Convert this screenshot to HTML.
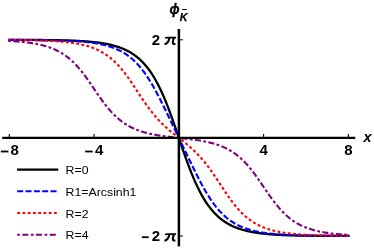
<!DOCTYPE html>
<html><head><meta charset="utf-8"><style>
html,body{margin:0;padding:0;background:#fff;}
body{width:374px;height:249px;overflow:hidden;position:relative;font-family:"Liberation Sans",sans-serif;}
svg{position:absolute;left:0;top:0;will-change:transform;}
text{font-family:"Liberation Sans",sans-serif;}
.b{font-weight:bold;font-size:15px;}
.bi{font-weight:bold;font-style:italic;font-size:14.5px;}
.l{font-size:11.6px;}
</style></head><body>
<svg width="374" height="249" viewBox="0 0 374 249">
<!-- curves -->
<path d="M9.33,39.86 L10.18,39.86 L11.03,39.86 L11.87,39.87 L12.72,39.87 L13.57,39.87 L14.42,39.87 L15.26,39.87 L16.11,39.88 L16.96,39.88 L17.81,39.88 L18.65,39.88 L19.50,39.89 L20.35,39.89 L21.20,39.89 L22.04,39.90 L22.89,39.90 L23.74,39.90 L24.59,39.91 L25.43,39.91 L26.28,39.91 L27.13,39.92 L27.98,39.92 L28.82,39.92 L29.67,39.93 L30.52,39.93 L31.37,39.94 L32.22,39.94 L33.06,39.95 L33.91,39.95 L34.76,39.96 L35.61,39.96 L36.45,39.97 L37.30,39.98 L38.15,39.98 L39.00,39.99 L39.84,40.00 L40.69,40.00 L41.54,40.01 L42.39,40.02 L43.23,40.03 L44.08,40.04 L44.93,40.04 L45.78,40.05 L46.62,40.06 L47.47,40.07 L48.32,40.08 L49.17,40.09 L50.01,40.11 L50.86,40.12 L51.71,40.13 L52.56,40.14 L53.41,40.15 L54.25,40.17 L55.10,40.18 L55.95,40.20 L56.80,40.21 L57.64,40.23 L58.49,40.25 L59.34,40.26 L60.19,40.28 L61.03,40.30 L61.88,40.32 L62.73,40.34 L63.58,40.36 L64.42,40.38 L65.27,40.41 L66.12,40.43 L66.97,40.46 L67.81,40.48 L68.66,40.51 L69.51,40.54 L70.36,40.57 L71.20,40.60 L72.05,40.63 L72.90,40.66 L73.75,40.70 L74.60,40.73 L75.44,40.77 L76.29,40.81 L77.14,40.85 L77.99,40.89 L78.83,40.93 L79.68,40.98 L80.53,41.03 L81.38,41.07 L82.22,41.13 L83.07,41.18 L83.92,41.23 L84.77,41.29 L85.61,41.35 L86.46,41.42 L87.31,41.48 L88.16,41.55 L89.00,41.62 L89.85,41.69 L90.70,41.77 L91.55,41.85 L92.39,41.93 L93.24,42.02 L94.09,42.11 L94.94,42.20 L95.79,42.30 L96.63,42.40 L97.48,42.50 L98.33,42.61 L99.18,42.73 L100.02,42.85 L100.87,42.97 L101.72,43.10 L102.57,43.23 L103.41,43.37 L104.26,43.51 L105.11,43.67 L105.96,43.82 L106.80,43.99 L107.65,44.16 L108.50,44.33 L109.35,44.52 L110.19,44.71 L111.04,44.91 L111.89,45.11 L112.74,45.33 L113.58,45.55 L114.43,45.79 L115.28,46.03 L116.13,46.28 L116.98,46.55 L117.82,46.82 L118.67,47.11 L119.52,47.40 L120.37,47.71 L121.21,48.03 L122.06,48.37 L122.91,48.72 L123.76,49.08 L124.60,49.45 L125.45,49.85 L126.30,50.25 L127.15,50.68 L127.99,51.12 L128.84,51.58 L129.69,52.05 L130.54,52.55 L131.38,53.06 L132.23,53.60 L133.08,54.16 L133.93,54.74 L134.77,55.34 L135.62,55.97 L136.47,56.62 L137.32,57.29 L138.17,58.00 L139.01,58.73 L139.86,59.49 L140.71,60.28 L141.56,61.10 L142.40,61.95 L143.25,62.83 L144.10,63.75 L144.95,64.70 L145.79,65.68 L146.64,66.71 L147.49,67.77 L148.34,68.87 L149.18,70.01 L150.03,71.19 L150.88,72.42 L151.73,73.69 L152.57,75.00 L153.42,76.35 L154.27,77.76 L155.12,79.21 L155.96,80.70 L156.81,82.25 L157.66,83.84 L158.51,85.48 L159.36,87.18 L160.20,88.92 L161.05,90.71 L161.90,92.56 L162.75,94.45 L163.59,96.39 L164.44,98.38 L165.29,100.42 L166.14,102.50 L166.98,104.63 L167.83,106.80 L168.68,109.02 L169.53,111.27 L170.37,113.56 L171.22,115.89 L172.07,118.25 L172.92,120.64 L173.76,123.06 L174.61,125.49 L175.46,127.95 L176.31,130.43 L177.15,132.91 L178.00,135.40 L178.85,137.90 L179.70,140.40 L180.55,142.89 L181.39,145.37 L182.24,147.85 L183.09,150.31 L183.94,152.74 L184.78,155.16 L185.63,157.55 L186.48,159.91 L187.33,162.24 L188.17,164.53 L189.02,166.78 L189.87,169.00 L190.72,171.17 L191.56,173.30 L192.41,175.38 L193.26,177.42 L194.11,179.41 L194.95,181.35 L195.80,183.24 L196.65,185.09 L197.50,186.88 L198.34,188.62 L199.19,190.32 L200.04,191.96 L200.89,193.55 L201.74,195.10 L202.58,196.59 L203.43,198.04 L204.28,199.45 L205.13,200.80 L205.97,202.11 L206.82,203.38 L207.67,204.61 L208.52,205.79 L209.36,206.93 L210.21,208.03 L211.06,209.09 L211.91,210.12 L212.75,211.10 L213.60,212.05 L214.45,212.97 L215.30,213.85 L216.14,214.70 L216.99,215.52 L217.84,216.31 L218.69,217.07 L219.53,217.80 L220.38,218.51 L221.23,219.18 L222.08,219.83 L222.93,220.46 L223.77,221.06 L224.62,221.64 L225.47,222.20 L226.32,222.74 L227.16,223.25 L228.01,223.75 L228.86,224.22 L229.71,224.68 L230.55,225.12 L231.40,225.55 L232.25,225.95 L233.10,226.35 L233.94,226.72 L234.79,227.08 L235.64,227.43 L236.49,227.77 L237.33,228.09 L238.18,228.40 L239.03,228.69 L239.88,228.98 L240.72,229.25 L241.57,229.52 L242.42,229.77 L243.27,230.01 L244.12,230.25 L244.96,230.47 L245.81,230.69 L246.66,230.89 L247.51,231.09 L248.35,231.28 L249.20,231.47 L250.05,231.64 L250.90,231.81 L251.74,231.98 L252.59,232.13 L253.44,232.29 L254.29,232.43 L255.13,232.57 L255.98,232.70 L256.83,232.83 L257.68,232.95 L258.52,233.07 L259.37,233.19 L260.22,233.30 L261.07,233.40 L261.91,233.50 L262.76,233.60 L263.61,233.69 L264.46,233.78 L265.31,233.87 L266.15,233.95 L267.00,234.03 L267.85,234.11 L268.70,234.18 L269.54,234.25 L270.39,234.32 L271.24,234.38 L272.09,234.45 L272.93,234.51 L273.78,234.57 L274.63,234.62 L275.48,234.67 L276.32,234.73 L277.17,234.77 L278.02,234.82 L278.87,234.87 L279.71,234.91 L280.56,234.95 L281.41,234.99 L282.26,235.03 L283.10,235.07 L283.95,235.10 L284.80,235.14 L285.65,235.17 L286.50,235.20 L287.34,235.23 L288.19,235.26 L289.04,235.29 L289.89,235.32 L290.73,235.34 L291.58,235.37 L292.43,235.39 L293.28,235.42 L294.12,235.44 L294.97,235.46 L295.82,235.48 L296.67,235.50 L297.51,235.52 L298.36,235.54 L299.21,235.55 L300.06,235.57 L300.90,235.59 L301.75,235.60 L302.60,235.62 L303.45,235.63 L304.29,235.65 L305.14,235.66 L305.99,235.67 L306.84,235.68 L307.69,235.69 L308.53,235.71 L309.38,235.72 L310.23,235.73 L311.08,235.74 L311.92,235.75 L312.77,235.76 L313.62,235.76 L314.47,235.77 L315.31,235.78 L316.16,235.79 L317.01,235.80 L317.86,235.80 L318.70,235.81 L319.55,235.82 L320.40,235.82 L321.25,235.83 L322.09,235.84 L322.94,235.84 L323.79,235.85 L324.64,235.85 L325.48,235.86 L326.33,235.86 L327.18,235.87 L328.03,235.87 L328.88,235.88 L329.72,235.88 L330.57,235.88 L331.42,235.89 L332.27,235.89 L333.11,235.89 L333.96,235.90 L334.81,235.90 L335.66,235.90 L336.50,235.91 L337.35,235.91 L338.20,235.91 L339.05,235.92 L339.89,235.92 L340.74,235.92 L341.59,235.92 L342.44,235.93 L343.28,235.93 L344.13,235.93 L344.98,235.93 L345.83,235.93 L346.67,235.94 L347.52,235.94 L348.37,235.94" fill="none" stroke="#000000" stroke-width="2.3" stroke-linecap="square" />
<path d="M9.33,39.88 L10.18,39.88 L11.03,39.88 L11.87,39.89 L12.72,39.89 L13.57,39.89 L14.42,39.89 L15.26,39.90 L16.11,39.90 L16.96,39.90 L17.81,39.91 L18.65,39.91 L19.50,39.92 L20.35,39.92 L21.20,39.92 L22.04,39.93 L22.89,39.93 L23.74,39.94 L24.59,39.94 L25.43,39.95 L26.28,39.95 L27.13,39.96 L27.98,39.96 L28.82,39.97 L29.67,39.97 L30.52,39.98 L31.37,39.99 L32.22,39.99 L33.06,40.00 L33.91,40.01 L34.76,40.02 L35.61,40.02 L36.45,40.03 L37.30,40.04 L38.15,40.05 L39.00,40.06 L39.84,40.07 L40.69,40.08 L41.54,40.09 L42.39,40.10 L43.23,40.11 L44.08,40.12 L44.93,40.14 L45.78,40.15 L46.62,40.16 L47.47,40.18 L48.32,40.19 L49.17,40.21 L50.01,40.22 L50.86,40.24 L51.71,40.26 L52.56,40.28 L53.41,40.29 L54.25,40.31 L55.10,40.33 L55.95,40.35 L56.80,40.38 L57.64,40.40 L58.49,40.42 L59.34,40.45 L60.19,40.47 L61.03,40.50 L61.88,40.53 L62.73,40.56 L63.58,40.59 L64.42,40.62 L65.27,40.65 L66.12,40.68 L66.97,40.72 L67.81,40.76 L68.66,40.79 L69.51,40.83 L70.36,40.87 L71.20,40.92 L72.05,40.96 L72.90,41.01 L73.75,41.06 L74.60,41.11 L75.44,41.16 L76.29,41.22 L77.14,41.27 L77.99,41.33 L78.83,41.39 L79.68,41.46 L80.53,41.52 L81.38,41.59 L82.22,41.67 L83.07,41.74 L83.92,41.82 L84.77,41.90 L85.61,41.99 L86.46,42.08 L87.31,42.17 L88.16,42.26 L89.00,42.36 L89.85,42.47 L90.70,42.57 L91.55,42.69 L92.39,42.80 L93.24,42.93 L94.09,43.05 L94.94,43.18 L95.79,43.32 L96.63,43.46 L97.48,43.61 L98.33,43.77 L99.18,43.93 L100.02,44.10 L100.87,44.27 L101.72,44.45 L102.57,44.64 L103.41,44.84 L104.26,45.04 L105.11,45.25 L105.96,45.47 L106.80,45.70 L107.65,45.94 L108.50,46.19 L109.35,46.45 L110.19,46.72 L111.04,47.00 L111.89,47.29 L112.74,47.59 L113.58,47.91 L114.43,48.24 L115.28,48.58 L116.13,48.93 L116.98,49.30 L117.82,49.68 L118.67,50.08 L119.52,50.49 L120.37,50.92 L121.21,51.37 L122.06,51.83 L122.91,52.32 L123.76,52.82 L124.60,53.34 L125.45,53.88 L126.30,54.44 L127.15,55.02 L127.99,55.63 L128.84,56.25 L129.69,56.90 L130.54,57.58 L131.38,58.28 L132.23,59.00 L133.08,59.76 L133.93,60.53 L134.77,61.34 L135.62,62.17 L136.47,63.03 L137.32,63.93 L138.17,64.85 L139.01,65.80 L139.86,66.78 L140.71,67.80 L141.56,68.84 L142.40,69.92 L143.25,71.03 L144.10,72.17 L144.95,73.35 L145.79,74.56 L146.64,75.79 L147.49,77.07 L148.34,78.37 L149.18,79.70 L150.03,81.07 L150.88,82.47 L151.73,83.89 L152.57,85.34 L153.42,86.83 L154.27,88.33 L155.12,89.87 L155.96,91.42 L156.81,93.01 L157.66,94.61 L158.51,96.23 L159.36,97.87 L160.20,99.53 L161.05,101.20 L161.90,102.89 L162.75,104.59 L163.59,106.30 L164.44,108.02 L165.29,109.75 L166.14,111.49 L166.98,113.23 L167.83,114.98 L168.68,116.73 L169.53,118.49 L170.37,120.25 L171.22,122.01 L172.07,123.78 L172.92,125.54 L173.76,127.30 L174.61,129.07 L175.46,130.84 L176.31,132.60 L177.15,134.37 L178.00,136.13 L178.85,137.90 L179.70,139.67 L180.55,141.43 L181.39,143.20 L182.24,144.96 L183.09,146.73 L183.94,148.50 L184.78,150.26 L185.63,152.02 L186.48,153.79 L187.33,155.55 L188.17,157.31 L189.02,159.07 L189.87,160.82 L190.72,162.57 L191.56,164.31 L192.41,166.05 L193.26,167.78 L194.11,169.50 L194.95,171.21 L195.80,172.91 L196.65,174.60 L197.50,176.27 L198.34,177.93 L199.19,179.57 L200.04,181.19 L200.89,182.79 L201.74,184.38 L202.58,185.93 L203.43,187.47 L204.28,188.97 L205.13,190.46 L205.97,191.91 L206.82,193.33 L207.67,194.73 L208.52,196.10 L209.36,197.43 L210.21,198.73 L211.06,200.01 L211.91,201.24 L212.75,202.45 L213.60,203.63 L214.45,204.77 L215.30,205.88 L216.14,206.96 L216.99,208.00 L217.84,209.02 L218.69,210.00 L219.53,210.95 L220.38,211.87 L221.23,212.77 L222.08,213.63 L222.93,214.46 L223.77,215.27 L224.62,216.04 L225.47,216.80 L226.32,217.52 L227.16,218.22 L228.01,218.90 L228.86,219.55 L229.71,220.17 L230.55,220.78 L231.40,221.36 L232.25,221.92 L233.10,222.46 L233.94,222.98 L234.79,223.48 L235.64,223.97 L236.49,224.43 L237.33,224.88 L238.18,225.31 L239.03,225.72 L239.88,226.12 L240.72,226.50 L241.57,226.87 L242.42,227.22 L243.27,227.56 L244.12,227.89 L244.96,228.21 L245.81,228.51 L246.66,228.80 L247.51,229.08 L248.35,229.35 L249.20,229.61 L250.05,229.86 L250.90,230.10 L251.74,230.33 L252.59,230.55 L253.44,230.76 L254.29,230.96 L255.13,231.16 L255.98,231.35 L256.83,231.53 L257.68,231.70 L258.52,231.87 L259.37,232.03 L260.22,232.19 L261.07,232.34 L261.91,232.48 L262.76,232.62 L263.61,232.75 L264.46,232.87 L265.31,233.00 L266.15,233.11 L267.00,233.23 L267.85,233.33 L268.70,233.44 L269.54,233.54 L270.39,233.63 L271.24,233.72 L272.09,233.81 L272.93,233.90 L273.78,233.98 L274.63,234.06 L275.48,234.13 L276.32,234.21 L277.17,234.28 L278.02,234.34 L278.87,234.41 L279.71,234.47 L280.56,234.53 L281.41,234.58 L282.26,234.64 L283.10,234.69 L283.95,234.74 L284.80,234.79 L285.65,234.84 L286.50,234.88 L287.34,234.93 L288.19,234.97 L289.04,235.01 L289.89,235.04 L290.73,235.08 L291.58,235.12 L292.43,235.15 L293.28,235.18 L294.12,235.21 L294.97,235.24 L295.82,235.27 L296.67,235.30 L297.51,235.33 L298.36,235.35 L299.21,235.38 L300.06,235.40 L300.90,235.42 L301.75,235.45 L302.60,235.47 L303.45,235.49 L304.29,235.51 L305.14,235.52 L305.99,235.54 L306.84,235.56 L307.69,235.58 L308.53,235.59 L309.38,235.61 L310.23,235.62 L311.08,235.64 L311.92,235.65 L312.77,235.66 L313.62,235.68 L314.47,235.69 L315.31,235.70 L316.16,235.71 L317.01,235.72 L317.86,235.73 L318.70,235.74 L319.55,235.75 L320.40,235.76 L321.25,235.77 L322.09,235.78 L322.94,235.78 L323.79,235.79 L324.64,235.80 L325.48,235.81 L326.33,235.81 L327.18,235.82 L328.03,235.83 L328.88,235.83 L329.72,235.84 L330.57,235.84 L331.42,235.85 L332.27,235.85 L333.11,235.86 L333.96,235.86 L334.81,235.87 L335.66,235.87 L336.50,235.88 L337.35,235.88 L338.20,235.88 L339.05,235.89 L339.89,235.89 L340.74,235.90 L341.59,235.90 L342.44,235.90 L343.28,235.91 L344.13,235.91 L344.98,235.91 L345.83,235.91 L346.67,235.92 L347.52,235.92 L348.37,235.92" fill="none" stroke="#0000ff" stroke-width="2.1" stroke-linecap="square" stroke-dasharray="4 4.375"/>
<path d="M9.33,39.98 L10.18,39.98 L11.03,39.99 L11.87,40.00 L12.72,40.00 L13.57,40.01 L14.42,40.02 L15.26,40.03 L16.11,40.04 L16.96,40.05 L17.81,40.05 L18.65,40.06 L19.50,40.07 L20.35,40.08 L21.20,40.10 L22.04,40.11 L22.89,40.12 L23.74,40.13 L24.59,40.14 L25.43,40.16 L26.28,40.17 L27.13,40.18 L27.98,40.20 L28.82,40.21 L29.67,40.23 L30.52,40.25 L31.37,40.27 L32.22,40.28 L33.06,40.30 L33.91,40.32 L34.76,40.34 L35.61,40.36 L36.45,40.39 L37.30,40.41 L38.15,40.43 L39.00,40.46 L39.84,40.48 L40.69,40.51 L41.54,40.54 L42.39,40.57 L43.23,40.60 L44.08,40.63 L44.93,40.67 L45.78,40.70 L46.62,40.74 L47.47,40.77 L48.32,40.81 L49.17,40.85 L50.01,40.89 L50.86,40.94 L51.71,40.98 L52.56,41.03 L53.41,41.08 L54.25,41.13 L55.10,41.19 L55.95,41.24 L56.80,41.30 L57.64,41.36 L58.49,41.42 L59.34,41.49 L60.19,41.56 L61.03,41.63 L61.88,41.70 L62.73,41.78 L63.58,41.86 L64.42,41.94 L65.27,42.03 L66.12,42.12 L66.97,42.21 L67.81,42.31 L68.66,42.41 L69.51,42.52 L70.36,42.63 L71.20,42.74 L72.05,42.86 L72.90,42.98 L73.75,43.11 L74.60,43.25 L75.44,43.39 L76.29,43.53 L77.14,43.68 L77.99,43.84 L78.83,44.00 L79.68,44.17 L80.53,44.35 L81.38,44.53 L82.22,44.73 L83.07,44.92 L83.92,45.13 L84.77,45.35 L85.61,45.57 L86.46,45.81 L87.31,46.05 L88.16,46.30 L89.00,46.56 L89.85,46.84 L90.70,47.12 L91.55,47.42 L92.39,47.72 L93.24,48.04 L94.09,48.37 L94.94,48.72 L95.79,49.08 L96.63,49.45 L97.48,49.84 L98.33,50.24 L99.18,50.65 L100.02,51.09 L100.87,51.54 L101.72,52.00 L102.57,52.49 L103.41,52.99 L104.26,53.51 L105.11,54.06 L105.96,54.62 L106.80,55.20 L107.65,55.80 L108.50,56.42 L109.35,57.07 L110.19,57.74 L111.04,58.43 L111.89,59.15 L112.74,59.89 L113.58,60.65 L114.43,61.44 L115.28,62.25 L116.13,63.09 L116.98,63.95 L117.82,64.84 L118.67,65.76 L119.52,66.70 L120.37,67.67 L121.21,68.66 L122.06,69.68 L122.91,70.72 L123.76,71.79 L124.60,72.88 L125.45,73.99 L126.30,75.13 L127.15,76.28 L127.99,77.46 L128.84,78.65 L129.69,79.87 L130.54,81.09 L131.38,82.34 L132.23,83.59 L133.08,84.86 L133.93,86.14 L134.77,87.42 L135.62,88.71 L136.47,90.00 L137.32,91.30 L138.17,92.59 L139.01,93.89 L139.86,95.18 L140.71,96.46 L141.56,97.74 L142.40,99.00 L143.25,100.26 L144.10,101.50 L144.95,102.73 L145.79,103.95 L146.64,105.15 L147.49,106.33 L148.34,107.50 L149.18,108.64 L150.03,109.77 L150.88,110.88 L151.73,111.96 L152.57,113.03 L153.42,114.08 L154.27,115.10 L155.12,116.10 L155.96,117.09 L156.81,118.05 L157.66,119.00 L158.51,119.92 L159.36,120.82 L160.20,121.71 L161.05,122.58 L161.90,123.43 L162.75,124.26 L163.59,125.07 L164.44,125.88 L165.29,126.66 L166.14,127.43 L166.98,128.19 L167.83,128.94 L168.68,129.67 L169.53,130.40 L170.37,131.11 L171.22,131.81 L172.07,132.51 L172.92,133.20 L173.76,133.88 L174.61,134.56 L175.46,135.23 L176.31,135.90 L177.15,136.57 L178.00,137.24 L178.85,137.90 L179.70,138.56 L180.55,139.23 L181.39,139.90 L182.24,140.57 L183.09,141.24 L183.94,141.92 L184.78,142.60 L185.63,143.29 L186.48,143.99 L187.33,144.69 L188.17,145.40 L189.02,146.13 L189.87,146.86 L190.72,147.61 L191.56,148.37 L192.41,149.14 L193.26,149.92 L194.11,150.73 L194.95,151.54 L195.80,152.37 L196.65,153.22 L197.50,154.09 L198.34,154.98 L199.19,155.88 L200.04,156.80 L200.89,157.75 L201.74,158.71 L202.58,159.70 L203.43,160.70 L204.28,161.72 L205.13,162.77 L205.97,163.84 L206.82,164.92 L207.67,166.03 L208.52,167.16 L209.36,168.30 L210.21,169.47 L211.06,170.65 L211.91,171.85 L212.75,173.07 L213.60,174.30 L214.45,175.54 L215.30,176.80 L216.14,178.06 L216.99,179.34 L217.84,180.62 L218.69,181.91 L219.53,183.21 L220.38,184.50 L221.23,185.80 L222.08,187.09 L222.93,188.38 L223.77,189.66 L224.62,190.94 L225.47,192.21 L226.32,193.46 L227.16,194.71 L228.01,195.93 L228.86,197.15 L229.71,198.34 L230.55,199.52 L231.40,200.67 L232.25,201.81 L233.10,202.92 L233.94,204.01 L234.79,205.08 L235.64,206.12 L236.49,207.14 L237.33,208.13 L238.18,209.10 L239.03,210.04 L239.88,210.96 L240.72,211.85 L241.57,212.71 L242.42,213.55 L243.27,214.36 L244.12,215.15 L244.96,215.91 L245.81,216.65 L246.66,217.37 L247.51,218.06 L248.35,218.73 L249.20,219.38 L250.05,220.00 L250.90,220.60 L251.74,221.18 L252.59,221.74 L253.44,222.29 L254.29,222.81 L255.13,223.31 L255.98,223.80 L256.83,224.26 L257.68,224.71 L258.52,225.15 L259.37,225.56 L260.22,225.96 L261.07,226.35 L261.91,226.72 L262.76,227.08 L263.61,227.43 L264.46,227.76 L265.31,228.08 L266.15,228.38 L267.00,228.68 L267.85,228.96 L268.70,229.24 L269.54,229.50 L270.39,229.75 L271.24,229.99 L272.09,230.23 L272.93,230.45 L273.78,230.67 L274.63,230.88 L275.48,231.07 L276.32,231.27 L277.17,231.45 L278.02,231.63 L278.87,231.80 L279.71,231.96 L280.56,232.12 L281.41,232.27 L282.26,232.41 L283.10,232.55 L283.95,232.69 L284.80,232.82 L285.65,232.94 L286.50,233.06 L287.34,233.17 L288.19,233.28 L289.04,233.39 L289.89,233.49 L290.73,233.59 L291.58,233.68 L292.43,233.77 L293.28,233.86 L294.12,233.94 L294.97,234.02 L295.82,234.10 L296.67,234.17 L297.51,234.24 L298.36,234.31 L299.21,234.38 L300.06,234.44 L300.90,234.50 L301.75,234.56 L302.60,234.61 L303.45,234.67 L304.29,234.72 L305.14,234.77 L305.99,234.82 L306.84,234.86 L307.69,234.91 L308.53,234.95 L309.38,234.99 L310.23,235.03 L311.08,235.06 L311.92,235.10 L312.77,235.13 L313.62,235.17 L314.47,235.20 L315.31,235.23 L316.16,235.26 L317.01,235.29 L317.86,235.32 L318.70,235.34 L319.55,235.37 L320.40,235.39 L321.25,235.41 L322.09,235.44 L322.94,235.46 L323.79,235.48 L324.64,235.50 L325.48,235.52 L326.33,235.53 L327.18,235.55 L328.03,235.57 L328.88,235.59 L329.72,235.60 L330.57,235.62 L331.42,235.63 L332.27,235.64 L333.11,235.66 L333.96,235.67 L334.81,235.68 L335.66,235.69 L336.50,235.70 L337.35,235.72 L338.20,235.73 L339.05,235.74 L339.89,235.75 L340.74,235.75 L341.59,235.76 L342.44,235.77 L343.28,235.78 L344.13,235.79 L344.98,235.80 L345.83,235.80 L346.67,235.81 L347.52,235.82 L348.37,235.82" fill="none" stroke="#ff0000" stroke-width="2.1" stroke-linecap="square" stroke-dasharray="0.8 4.437"/>
<path d="M9.33,40.96 L10.18,41.01 L11.03,41.06 L11.87,41.11 L12.72,41.16 L13.57,41.22 L14.42,41.27 L15.26,41.33 L16.11,41.39 L16.96,41.46 L17.81,41.53 L18.65,41.60 L19.50,41.67 L20.35,41.74 L21.20,41.82 L22.04,41.90 L22.89,41.99 L23.74,42.08 L24.59,42.17 L25.43,42.26 L26.28,42.36 L27.13,42.47 L27.98,42.58 L28.82,42.69 L29.67,42.81 L30.52,42.93 L31.37,43.05 L32.22,43.18 L33.06,43.32 L33.91,43.46 L34.76,43.61 L35.61,43.77 L36.45,43.93 L37.30,44.10 L38.15,44.27 L39.00,44.45 L39.84,44.64 L40.69,44.83 L41.54,45.04 L42.39,45.25 L43.23,45.47 L44.08,45.70 L44.93,45.94 L45.78,46.19 L46.62,46.44 L47.47,46.71 L48.32,46.99 L49.17,47.28 L50.01,47.58 L50.86,47.90 L51.71,48.22 L52.56,48.56 L53.41,48.91 L54.25,49.28 L55.10,49.66 L55.95,50.05 L56.80,50.46 L57.64,50.89 L58.49,51.33 L59.34,51.79 L60.19,52.26 L61.03,52.76 L61.88,53.27 L62.73,53.80 L63.58,54.35 L64.42,54.92 L65.27,55.51 L66.12,56.12 L66.97,56.76 L67.81,57.41 L68.66,58.09 L69.51,58.79 L70.36,59.52 L71.20,60.27 L72.05,61.04 L72.90,61.84 L73.75,62.66 L74.60,63.51 L75.44,64.38 L76.29,65.28 L77.14,66.20 L77.99,67.14 L78.83,68.11 L79.68,69.11 L80.53,70.13 L81.38,71.17 L82.22,72.24 L83.07,73.32 L83.92,74.43 L84.77,75.56 L85.61,76.71 L86.46,77.87 L87.31,79.05 L88.16,80.25 L89.00,81.45 L89.85,82.67 L90.70,83.90 L91.55,85.14 L92.39,86.38 L93.24,87.63 L94.09,88.88 L94.94,90.13 L95.79,91.38 L96.63,92.62 L97.48,93.86 L98.33,95.09 L99.18,96.31 L100.02,97.52 L100.87,98.71 L101.72,99.89 L102.57,101.06 L103.41,102.21 L104.26,103.33 L105.11,104.44 L105.96,105.53 L106.80,106.60 L107.65,107.64 L108.50,108.66 L109.35,109.66 L110.19,110.63 L111.04,111.58 L111.89,112.50 L112.74,113.40 L113.58,114.27 L114.43,115.12 L115.28,115.95 L116.13,116.75 L116.98,117.52 L117.82,118.27 L118.67,119.00 L119.52,119.70 L120.37,120.38 L121.21,121.04 L122.06,121.68 L122.91,122.29 L123.76,122.89 L124.60,123.46 L125.45,124.02 L126.30,124.55 L127.15,125.07 L127.99,125.56 L128.84,126.04 L129.69,126.51 L130.54,126.95 L131.38,127.38 L132.23,127.80 L133.08,128.20 L133.93,128.58 L134.77,128.95 L135.62,129.31 L136.47,129.66 L137.32,129.99 L138.17,130.31 L139.01,130.62 L139.86,130.91 L140.71,131.20 L141.56,131.47 L142.40,131.74 L143.25,132.00 L144.10,132.24 L144.95,132.48 L145.79,132.71 L146.64,132.93 L147.49,133.15 L148.34,133.35 L149.18,133.55 L150.03,133.75 L150.88,133.93 L151.73,134.11 L152.57,134.28 L153.42,134.45 L154.27,134.61 L155.12,134.77 L155.96,134.92 L156.81,135.07 L157.66,135.21 L158.51,135.35 L159.36,135.49 L160.20,135.62 L161.05,135.75 L161.90,135.87 L162.75,135.99 L163.59,136.11 L164.44,136.22 L165.29,136.34 L166.14,136.44 L166.98,136.55 L167.83,136.66 L168.68,136.76 L169.53,136.86 L170.37,136.96 L171.22,137.06 L172.07,137.16 L172.92,137.25 L173.76,137.35 L174.61,137.44 L175.46,137.53 L176.31,137.62 L177.15,137.72 L178.00,137.81 L178.85,137.90 L179.70,137.99 L180.55,138.08 L181.39,138.18 L182.24,138.27 L183.09,138.36 L183.94,138.45 L184.78,138.55 L185.63,138.64 L186.48,138.74 L187.33,138.84 L188.17,138.94 L189.02,139.04 L189.87,139.14 L190.72,139.25 L191.56,139.36 L192.41,139.46 L193.26,139.58 L194.11,139.69 L194.95,139.81 L195.80,139.93 L196.65,140.05 L197.50,140.18 L198.34,140.31 L199.19,140.45 L200.04,140.59 L200.89,140.73 L201.74,140.88 L202.58,141.03 L203.43,141.19 L204.28,141.35 L205.13,141.52 L205.97,141.69 L206.82,141.87 L207.67,142.05 L208.52,142.25 L209.36,142.45 L210.21,142.65 L211.06,142.87 L211.91,143.09 L212.75,143.32 L213.60,143.56 L214.45,143.80 L215.30,144.06 L216.14,144.33 L216.99,144.60 L217.84,144.89 L218.69,145.18 L219.53,145.49 L220.38,145.81 L221.23,146.14 L222.08,146.49 L222.93,146.85 L223.77,147.22 L224.62,147.60 L225.47,148.00 L226.32,148.42 L227.16,148.85 L228.01,149.29 L228.86,149.76 L229.71,150.24 L230.55,150.73 L231.40,151.25 L232.25,151.78 L233.10,152.34 L233.94,152.91 L234.79,153.51 L235.64,154.12 L236.49,154.76 L237.33,155.42 L238.18,156.10 L239.03,156.80 L239.88,157.53 L240.72,158.28 L241.57,159.05 L242.42,159.85 L243.27,160.68 L244.12,161.53 L244.96,162.40 L245.81,163.30 L246.66,164.22 L247.51,165.17 L248.35,166.14 L249.20,167.14 L250.05,168.16 L250.90,169.20 L251.74,170.27 L252.59,171.36 L253.44,172.47 L254.29,173.59 L255.13,174.74 L255.98,175.91 L256.83,177.09 L257.68,178.28 L258.52,179.49 L259.37,180.71 L260.22,181.94 L261.07,183.18 L261.91,184.42 L262.76,185.67 L263.61,186.92 L264.46,188.17 L265.31,189.42 L266.15,190.66 L267.00,191.90 L267.85,193.13 L268.70,194.35 L269.54,195.55 L270.39,196.75 L271.24,197.93 L272.09,199.09 L272.93,200.24 L273.78,201.37 L274.63,202.48 L275.48,203.56 L276.32,204.63 L277.17,205.67 L278.02,206.69 L278.87,207.69 L279.71,208.66 L280.56,209.60 L281.41,210.52 L282.26,211.42 L283.10,212.29 L283.95,213.14 L284.80,213.96 L285.65,214.76 L286.50,215.53 L287.34,216.28 L288.19,217.01 L289.04,217.71 L289.89,218.39 L290.73,219.04 L291.58,219.68 L292.43,220.29 L293.28,220.88 L294.12,221.45 L294.97,222.00 L295.82,222.53 L296.67,223.04 L297.51,223.54 L298.36,224.01 L299.21,224.47 L300.06,224.91 L300.90,225.34 L301.75,225.75 L302.60,226.14 L303.45,226.52 L304.29,226.89 L305.14,227.24 L305.99,227.58 L306.84,227.90 L307.69,228.22 L308.53,228.52 L309.38,228.81 L310.23,229.09 L311.08,229.36 L311.92,229.61 L312.77,229.86 L313.62,230.10 L314.47,230.33 L315.31,230.55 L316.16,230.76 L317.01,230.97 L317.86,231.16 L318.70,231.35 L319.55,231.53 L320.40,231.70 L321.25,231.87 L322.09,232.03 L322.94,232.19 L323.79,232.34 L324.64,232.48 L325.48,232.62 L326.33,232.75 L327.18,232.87 L328.03,232.99 L328.88,233.11 L329.72,233.22 L330.57,233.33 L331.42,233.44 L332.27,233.54 L333.11,233.63 L333.96,233.72 L334.81,233.81 L335.66,233.90 L336.50,233.98 L337.35,234.06 L338.20,234.13 L339.05,234.20 L339.89,234.27 L340.74,234.34 L341.59,234.41 L342.44,234.47 L343.28,234.53 L344.13,234.58 L344.98,234.64 L345.83,234.69 L346.67,234.74 L347.52,234.79 L348.37,234.84" fill="none" stroke="#800080" stroke-width="2.1" stroke-linecap="square" stroke-dasharray="0.7 4.43 4 4.51"/>

<!-- axes -->
<line x1="2.2" y1="137.9" x2="355.3" y2="137.9" stroke="#000" stroke-width="2.4"/>
<line x1="178.9" y1="29" x2="178.9" y2="246.4" stroke="#000" stroke-width="2.5"/>
<!-- ticks -->
<g stroke="#000" stroke-width="1.1">
<line x1="9.33" y1="137.7" x2="9.33" y2="133.9"/>
<line x1="94.09" y1="137.7" x2="94.09" y2="133.9"/>
<line x1="263.61" y1="137.7" x2="263.61" y2="133.9"/>
<line x1="348.37" y1="137.7" x2="348.37" y2="133.9"/>
<line x1="179" y1="39.8" x2="182.9" y2="39.8" stroke-width="1"/>
<line x1="179" y1="236" x2="182.9" y2="236" stroke-width="1"/>
</g>
<!-- tick labels -->
<text class="b" x="10.4" y="155.4">8</text>
<text class="b" x="94.9" y="155.4">4</text>
<text class="b" x="259.6" y="155.4">4</text>
<text class="b" x="344.2" y="155.4">8</text>
<text class="b" x="151.8" y="44.7">2</text>
<text class="b" x="151.8" y="241.2">2</text>
<g fill="none" stroke="#000">
<path d="M165.3,38.3 C165.8,37.7 166.3,37.7 167,37.7 L176.1,37.7" stroke-width="1.8"/>
<path d="M169.4,37.7 C169.0,40.6 167.9,43.6 164.5,44.3" stroke-width="2.1"/>
<path d="M173.7,37.7 L172.8,42.2 C172.5,43.9 173.7,44.2 175.4,43.7" stroke-width="2.1"/>
</g>
<g fill="none" stroke="#000" transform="translate(0,196.5)">
<path d="M165.3,38.3 C165.8,37.7 166.3,37.7 167,37.7 L176.1,37.7" stroke-width="1.8"/>
<path d="M169.4,37.7 C169.0,40.6 167.9,43.6 164.5,44.3" stroke-width="2.1"/>
<path d="M173.7,37.7 L172.8,42.2 C172.5,43.9 173.7,44.2 175.4,43.7" stroke-width="2.1"/>
</g>
<g stroke="#000" stroke-width="1.8">
<line x1="0.8" y1="151.5" x2="8.4" y2="151.5"/>
<line x1="85.2" y1="151.5" x2="92.7" y2="151.5"/>
<line x1="141.9" y1="237.2" x2="148.6" y2="237.2"/>
</g>
<!-- axis labels -->
<text class="bi" x="363.4" y="142.2">x</text>
<text class="bi" transform="translate(169.4,13.9) scale(0.93,1)" style="font-size:14.4px;stroke:#000;stroke-width:0.3px">ϕ</text>
<text class="bi" x="179.8" y="20.8" style="font-size:10.8px;stroke:#000;stroke-width:0.25px">K</text>
<line x1="182.3" y1="9.5" x2="186.7" y2="9.5" stroke="#000" stroke-width="1.1"/>
<!-- legend -->
<g stroke-width="2" stroke-linecap="square">
<line x1="18.2" y1="169.65" x2="57.1" y2="169.65" stroke="#000" stroke-width="2.3"/>
<line x1="18.2" y1="191.2" x2="57.1" y2="191.2" stroke="#0000ff" stroke-dasharray="4 4.34"/>
<line x1="18.2" y1="212.9" x2="57.1" y2="212.9" stroke="#ff0000" stroke-dasharray="0.8 4.46"/>
<line x1="18.2" y1="234.8" x2="57.1" y2="234.8" stroke="#800080" stroke-dasharray="0.7 4.45 4 4.55"/>
</g>
<g class="l">
<text transform="translate(65.6,174.3) scale(1.062,1)">R=0</text>
<text transform="translate(65.6,195.7) scale(1.062,1)">R1=Arcsinh1</text>
<text transform="translate(65.6,217.5) scale(1.062,1)">R=2</text>
<text transform="translate(65.6,239.2) scale(1.062,1)">R=4</text>
</g>
</svg>
</body></html>
